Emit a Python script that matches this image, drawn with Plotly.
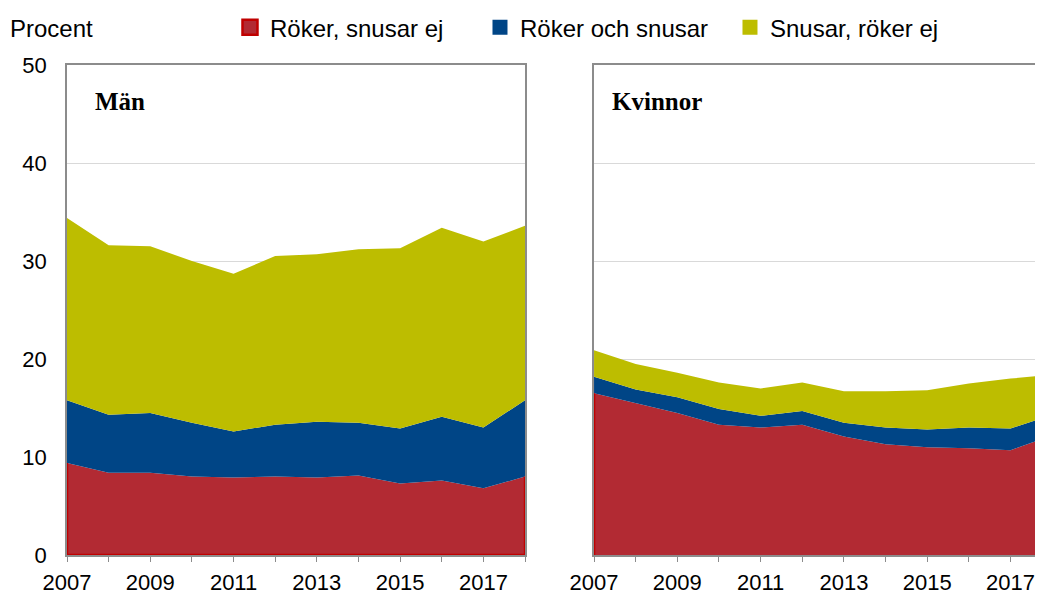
import plotly.graph_objects as go

years = list(range(2007, 2019))

# Män
men_smoke_only = [9.4, 8.4, 8.4, 8.0, 7.9, 8.0, 7.9, 8.1, 7.3, 7.6, 6.8, 8.0]
men_both = [6.4, 5.9, 6.1, 5.5, 4.7, 5.3, 5.7, 5.4, 5.6, 6.5, 6.2, 7.8]
men_snus_only = [18.6, 17.3, 17.0, 16.5, 16.1, 17.2, 17.1, 17.7, 18.4, 19.3, 19.0, 17.8]

# Kvinnor
women_smoke_only = [16.5, 15.5, 14.5, 13.3, 13.0, 13.3, 12.1, 11.3, 11.0, 10.9, 10.7, 12.2]
women_both = [1.7, 1.4, 1.6, 1.6, 1.2, 1.4, 1.4, 1.7, 1.8, 2.1, 2.2, 2.1]
women_snus_only = [2.7, 2.6, 2.5, 2.7, 2.8, 2.9, 3.2, 3.7, 4.0, 4.5, 5.1, 4.1]

series_names = ["Röker, snusar ej", "Röker och snusar", "Snusar, röker ej"]
panel_titles = ["Män", "Kvinnor"]
x_tick_labels = [2007, 2009, 2011, 2013, 2015, 2017]
y_ticks = [0, 10, 20, 30, 40, 50]

RED = "#B22A33"
RED_EDGE = "#C00000"
BLUE = "#004586"
YELLOW = "#BDBD00"
GRID = "#D9D9D9"
AXIS = "#8C8C8C"
colors = [RED, BLUE, YELLOW]

fig = go.Figure()

panels = [
    ("x", "y", "m", [men_smoke_only, men_both, men_snus_only]),
    ("x2", "y2", "w", [women_smoke_only, women_both, women_snus_only]),
]
for xa, ya, grp, data in panels:
    for name, vals, col in zip(series_names, data, colors):
        fig.add_trace(go.Scatter(
            x=years, y=vals, xaxis=xa, yaxis=ya, stackgroup=grp,
            mode="lines", line=dict(width=0, color=col), fillcolor=col,
            name=name, showlegend=False, hoverinfo="x+y+name"))

# dark red border of the bottom area (Excel area outline)
fig.add_trace(go.Scatter(
    x=[years[0], years[0], years[-1], years[-1]],
    y=[men_smoke_only[0], 0, 0, men_smoke_only[-1]],
    xaxis="x", yaxis="y", mode="lines",
    line=dict(color=RED_EDGE, width=2.5), showlegend=False, hoverinfo="skip"))
fig.add_trace(go.Scatter(
    x=[years[0], years[0]], y=[0, women_smoke_only[0]],
    xaxis="x2", yaxis="y2", mode="lines",
    line=dict(color=RED_EDGE, width=2.5), showlegend=False, hoverinfo="skip"))

# legend entries
for name, col in zip(series_names, colors):
    fig.add_trace(go.Scatter(
        x=[None], y=[None], mode="markers", name=name,
        marker=dict(symbol="square", size=15, color=col,
                    line=dict(color=RED_EDGE if col == RED else col, width=2.5 if col == RED else 0))))

font_family = "Liberation Sans, Arial, sans-serif"

common_x = dict(
    tickvals=x_tick_labels, ticks="outside", ticklen=5, tickcolor=AXIS,
    showline=True, linecolor=AXIS, linewidth=1.5, mirror=True,
    showgrid=False, zeroline=False, automargin=False, ticklabelstandoff=2,
    tickfont=dict(size=22, color="black", family=font_family),
    minor=dict(dtick=1, tick0=2007, ticks="outside", ticklen=5, tickcolor=AXIS, showgrid=False),
)
fig.update_layout(
    width=1043, height=594,
    margin=dict(l=59, r=8, t=57, b=47, autoexpand=False),
    paper_bgcolor="white", plot_bgcolor="white",
    font=dict(family=font_family, size=22, color="black"),
    xaxis=dict(domain=[0, 0.4693], range=[2007, 2018], **common_x),
    xaxis2=dict(domain=[0.54, 1.0], range=[2007, 2017.78], **common_x),
    yaxis=dict(range=[0, 50], tickvals=y_ticks, showgrid=True, gridcolor=GRID, gridwidth=1,
               showline=True, linecolor=AXIS, linewidth=1.5, mirror=True, zeroline=False,
               ticks="", ticklabelstandoff=14, automargin=False,
               tickfont=dict(size=22, color="black", family=font_family)),
    yaxis2=dict(range=[0, 50], tickvals=y_ticks, showticklabels=False, anchor="x2",
                showgrid=True, gridcolor=GRID, gridwidth=1, automargin=False,
                showline=True, linecolor=AXIS, linewidth=1.5, mirror=False, zeroline=False,
                ticks=""),
    legend=dict(orientation="h", x=0.167, xanchor="left", y=1.076, yanchor="middle",
                font=dict(size=24, family=font_family, color="black"),
                entrywidth=205, entrywidthmode="pixels", itemwidth=30,
                bgcolor="rgba(0,0,0,0)", traceorder="normal"),
    showlegend=True,
)

fig.add_annotation(text="Procent", xref="paper", yref="paper", x=-0.0605, y=1.074,
                   xanchor="left", yanchor="middle", showarrow=False,
                   font=dict(size=24, family=font_family, color="black"))
title_font = dict(size=25, family="Liberation Serif, Times New Roman, serif", color="black")
fig.add_annotation(text="<b>" + panel_titles[0] + "</b>", xref="paper", yref="paper",
                   x=0.0267, y=0.9265, xanchor="left", yanchor="middle", showarrow=False, font=title_font)
fig.add_annotation(text="<b>" + panel_titles[1] + "</b>", xref="paper", yref="paper",
                   x=0.5564, y=0.9265, xanchor="left", yanchor="middle", showarrow=False, font=title_font)

fig.write_html("out.html")
